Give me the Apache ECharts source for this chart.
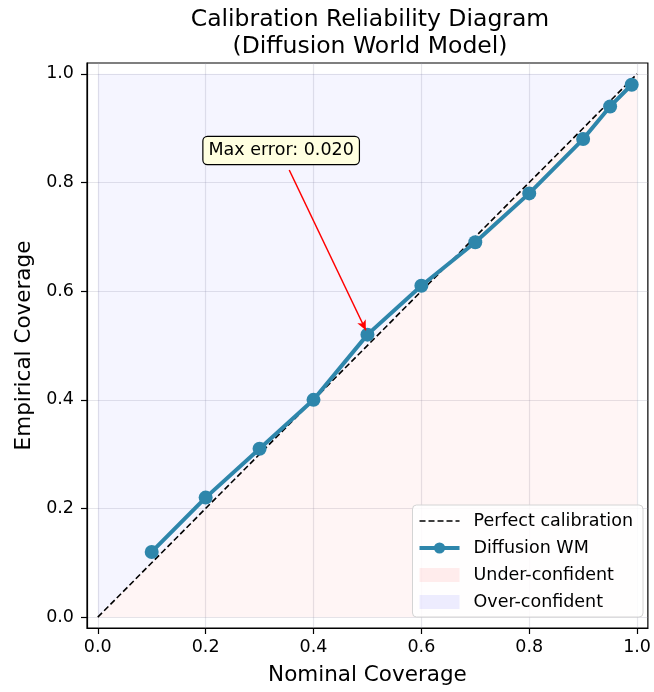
<!DOCTYPE html>
<html>
<head>
<meta charset="utf-8">
<script src="https://cdn.jsdelivr.net/npm/echarts@6/dist/echarts.min.js"></script>
<style>
  html, body { margin: 0; padding: 0; background: #fff; }
  #chart { width: 654px; height: 692px; }
</style>
</head>
<body>
<div id="chart"></div>
<script>
// nominal vs empirical coverage
const nominal = [0.1, 0.2, 0.3, 0.4, 0.5, 0.6, 0.7, 0.8, 0.9, 0.95, 0.99];
const empirical = [0.12, 0.22, 0.31, 0.40, 0.52, 0.61, 0.69, 0.78, 0.88, 0.94, 0.98];
const diagonal = [[0, 0], [1, 1]];
const tickValues = [0, 0.2, 0.4, 0.6, 0.8, 1.0];
const annotText = 'Max error: 0.020';
const annotPos = [0.34, 0.859];
const arrowFrom = [0.355, 0.823];
const arrowTo = [0.497, 0.528];

const chart = echarts.init(document.getElementById('chart'), null, { renderer: 'canvas' });

const font = 'DejaVu Sans';
const axisCommon = {
  type: 'value',
  min: -0.02,
  max: 1.02,
  nameLocation: 'middle',
  nameTextStyle: { fontFamily: font, fontSize: 21.5, color: '#000' },
  axisLine: { show: true, onZero: false, lineStyle: { color: '#000', width: 1.2 } },
  axisTick: { show: true, length: 6, customValues: tickValues, lineStyle: { color: '#000', width: 1.2 } },
  axisLabel: {
    customValues: tickValues,
    fontFamily: font, fontSize: 17.5, color: '#000',
    formatter: v => v.toFixed(1)
  },
  splitLine: { show: true, lineStyle: { color: 'rgba(150,150,170,0.25)', width: 1.2 } }
};

chart.setOption({
  animation: false,
  backgroundColor: '#fff',
  title: {
    text: 'Calibration Reliability Diagram\n(Diffusion World Model)',
    left: 370,
    top: 6,
    textAlign: 'center',
    padding: 0,
    textStyle: { fontFamily: font, fontSize: 23.5, fontWeight: 'normal', color: '#000', lineHeight: 27 }
  },
  grid: {
    left: 87, right: 2, top: 63, bottom: 64,
    show: true, borderColor: '#000', borderWidth: 1.2, backgroundColor: 'transparent'
  },
  xAxis: Object.assign({}, axisCommon, {
    name: 'Nominal Coverage', nameGap: 36,
    axisLabel: Object.assign({}, axisCommon.axisLabel, { margin: 10 })
  }),
  yAxis: Object.assign({}, axisCommon, {
    name: 'Empirical Coverage', nameGap: 52,
    axisLabel: Object.assign({}, axisCommon.axisLabel, { margin: 13 })
  }),
  legend: {
    orient: 'vertical',
    right: 11,
    bottom: 75,
    padding: [7, 10, 6, 5],
    itemGap: 9,
    itemWidth: 40,
    itemHeight: 14,
    backgroundColor: 'rgba(255,255,255,0.85)',
    borderColor: '#d4d4d4',
    borderWidth: 1,
    borderRadius: 4,
    textStyle: { fontFamily: font, fontSize: 17.5, color: '#000', padding: [0, 0, 0, 9] },
    data: [
      { name: 'Perfect calibration', itemStyle: { color: 'transparent', opacity: 0 }, lineStyle: { width: 1.6 } },
      { name: 'Diffusion WM', lineStyle: { width: 4 } },
      { name: 'Under-confident', icon: 'rect', itemStyle: { color: 'rgba(255,0,0,0.07)' } },
      { name: 'Over-confident', icon: 'rect', itemStyle: { color: 'rgba(0,0,255,0.07)' } }
    ]
  },
  series: [
    {
      name: 'Under-confident',
      type: 'line',
      data: diagonal,
      symbol: 'none',
      silent: true,
      z: 1,
      color: 'rgba(255,0,0,0.07)',
      lineStyle: { width: 0 },
      areaStyle: { origin: 0, color: 'rgba(255,0,0,0.055)' }
    },
    {
      name: 'Over-confident',
      type: 'line',
      data: diagonal,
      symbol: 'none',
      silent: true,
      z: 1,
      color: 'rgba(0,0,255,0.07)',
      lineStyle: { width: 0 },
      areaStyle: { origin: 1, color: 'rgba(0,0,255,0.055)' }
    },
    {
      name: 'Perfect calibration',
      type: 'line',
      data: diagonal,
      symbol: 'none',
      z: 3,
      color: '#000',
      lineStyle: { color: '#000', width: 1.6, type: [6, 3] }
    },
    {
      name: 'Diffusion WM',
      type: 'line',
      data: nominal.map((x, i) => [x, empirical[i]]),
      symbol: 'circle',
      symbolSize: 14,
      z: 4,
      color: '#2E86AB',
      lineStyle: { color: '#2E86AB', width: 4 },
      itemStyle: { color: '#2E86AB' },
      markLine: {
        silent: true,
        symbol: ['none', 'arrow'],
        symbolSize: [7, 10],
        label: { show: false },
        lineStyle: { color: '#ff0000', width: 1.5, type: 'solid' },
        data: [[{ coord: arrowFrom }, { coord: arrowTo }]]
      }
    },
    {
      name: 'annotation',
      type: 'scatter',
      data: [annotPos],
      symbolSize: 1,
      z: 6,
      silent: true,
      itemStyle: { color: 'transparent', opacity: 1 },
      label: {
        show: true,
        position: 'inside',
        formatter: annotText,
        fontFamily: font,
        fontSize: 17.5,
        color: '#000',
        backgroundColor: '#ffffe0',
        borderColor: '#000',
        borderWidth: 1.2,
        borderRadius: 4,
        padding: [5, 5, 4, 5]
      }
    }
  ]
});
</script>
</body>
</html>
